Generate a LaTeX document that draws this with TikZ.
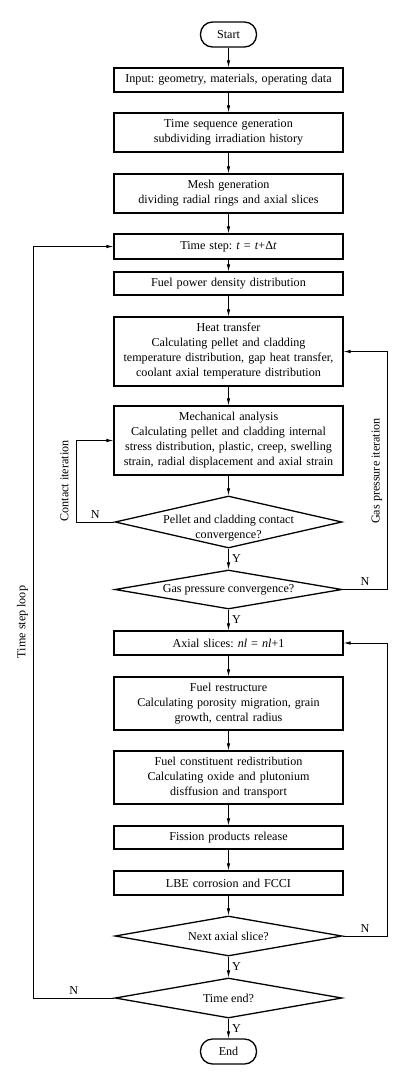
\documentclass[tikz,border=0pt]{standalone}
\usepackage{fontspec}
\setmainfont{Liberation Serif}
\usetikzlibrary{arrows.meta,shapes.geometric}
\frenchspacing
\begin{document}
\begin{tikzpicture}[
    x=1pt, y=-1pt,
    font=\fontsize{12.1}{15}\selectfont,
    process/.style={rectangle, draw, line width=1.3pt, minimum width=229pt, text width=227pt, align=center, inner sep=0pt},
    terminal/.style={rectangle, draw, line width=1.3pt, rounded corners=12pt, minimum width=56pt, minimum height=25pt, inner sep=0pt},
    decision/.style={diamond, draw, line width=1.3pt, minimum width=227pt, inner sep=0pt},
    flow/.style={-{Latex[length=7pt,width=3.5pt]}, line width=0.7pt}
]
    \useasboundingbox (0,0) rectangle (418,1076);

    % main column
    \node[terminal] (start) at (228.5,34.5) {Start};
    \node[process, minimum height=24pt] (input) at (228.5,80) {Input: geometry, materials, operating data};
    \node[process, minimum height=39pt] (timeseq) at (228.5,132.5) {Time sequence generation\\subdividing irradiation history};
    \node[process, minimum height=39pt] (mesh) at (228.5,193.5) {Mesh generation\\dividing radial rings and axial slices};
    \node[process, minimum height=25pt] (timestep) at (228.5,246.5) {Time step: \textit{t} = \textit{t}+Δ\textit{t}};
    \node[process, minimum height=23pt] (fuelpower) at (228.5,283.5) {Fuel power density distribution};
    \node[process, minimum height=69pt] (heat) at (228.5,351.5) {
        Heat transfer\\
        Calculating pellet and cladding\\
        temperature distribution, gap heat transfer,\\
        coolant axial temperature distribution
    };
    \node[process, minimum height=69pt] (mech) at (228.5,440.5) {
        Mechanical analysis\\
        Calculating pellet and cladding internal\\
        stress distribution, plastic, creep, swelling\\
        strain, radial displacement and axial strain
    };
    \node[decision, minimum height=52pt] (contact) at (228.5,522) {};
    \node[align=center, inner sep=0pt] (contact-t) at (228.5,528) {Pellet and cladding contact\\convergence?};
    \node[decision, minimum height=39pt] (gascheck) at (228.5,589.5) {};
    \node[inner sep=0pt] (gascheck-t) at (gascheck) {Gas pressure convergence?};
    \node[process, minimum height=24pt] (axial) at (228.5,643) {Axial slices: \textit{nl} = \textit{nl}+1};
    \node[process, minimum height=53pt] (restr) at (228.5,703.5) {
        Fuel restructure\\
        Calculating porosity migration, grain\\
        growth, central radius
    };
    \node[process, minimum height=53pt] (redist) at (228.5,777.5) {
        Fuel constituent redistribution\\
        Calculating oxide and plutonium\\
        disffusion and transport
    };
    \node[process, minimum height=23pt] (fission) at (228.5,837.5) {Fission products release};
    \node[process, minimum height=24pt] (lbe) at (228.5,883) {LBE corrosion and FCCI};
    \node[decision, minimum height=40pt] (nextslice) at (228.5,936) {};
    \node[inner sep=0pt] (nextslice-t) at (nextslice) {Next axial slice?};
    \node[decision, minimum height=40pt] (timeend) at (228.5,998) {};
    \node[inner sep=0pt] (timeend-t) at (timeend) {Time end?};
    \node[terminal] (end) at (228.5,1051.5) {End};

    % loop labels
    \node[rotate=90] (contactlbl) at (64.5,481) {Contact iteration};
    \node[rotate=90] (gaslbl) at (377,471) {Gas pressure iteration};
    \node[rotate=90] (looplbl) at (22.5,622) {Time step loop};

    % straight flow
    \draw[flow] (start) -- (input);
    \draw[flow] (input) -- (timeseq);
    \draw[flow] (timeseq) -- (mesh);
    \draw[flow] (mesh) -- (timestep);
    \draw[flow] (timestep) -- (fuelpower);
    \draw[flow] (fuelpower) -- (heat);
    \draw[flow] (heat) -- (mech);
    \draw[flow] (mech) -- (contact);
    \draw[flow] (contact) -- node[right] {Y} (gascheck);
    \draw[flow] (gascheck) -- node[right] {Y} (axial);
    \draw[flow] (axial) -- (restr);
    \draw[flow] (restr) -- (redist);
    \draw[flow] (redist) -- (fission);
    \draw[flow] (fission) -- (lbe);
    \draw[flow] (lbe) -- (nextslice);
    \draw[flow] (nextslice) -- node[right] {Y} (timeend);
    \draw[flow] (timeend) -- node[right] {Y} (end);

    % iterations
    \draw[flow] (contact.west) -- node[above] {N} ++(-38,0) |- (mech.west);
    \draw[flow] (gascheck.east) -- node[above] {N} ++(44.5,0) |- (heat.east);
    \draw[flow] (nextslice.east) -- node[above] {N} ++(44.5,0) |- (axial.east);
    \draw[flow] (timeend.west) -- node[above] {N} ++(-81,0) |- (timestep.west);
\end{tikzpicture}
\end{document}
